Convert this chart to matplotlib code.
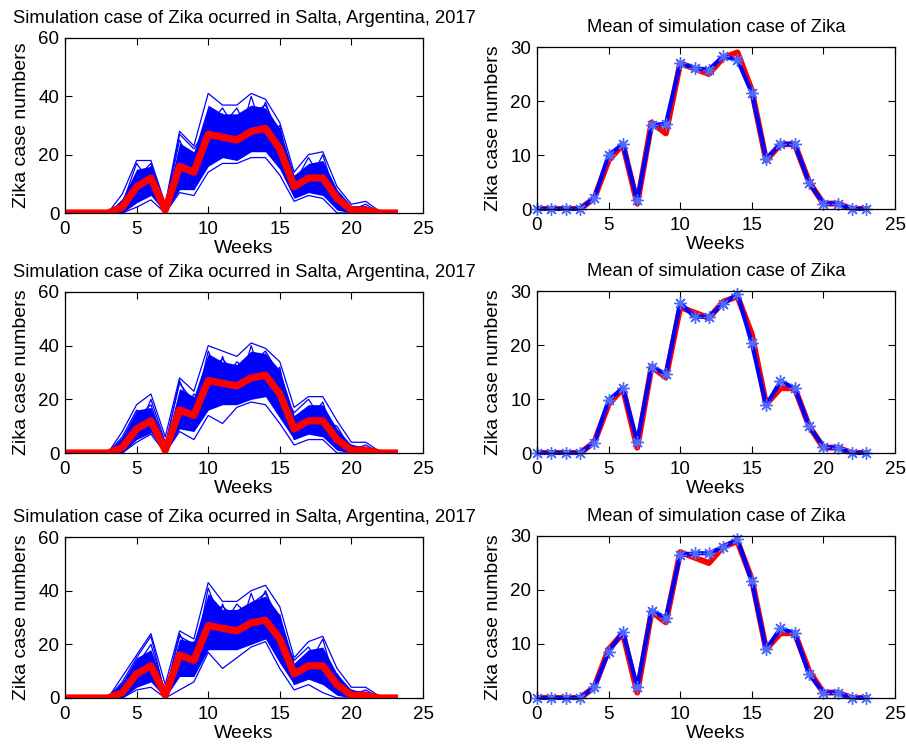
import matplotlib
matplotlib.use("Agg")
import matplotlib.pyplot as plt

plt.rcParams['font.family'] = ['Liberation Sans', 'DejaVu Sans']

weeks = list(range(24))
observed = [0, 0, 0, 0, 2, 9, 12, 1, 16, 14, 27, 26, 25, 28, 29, 22, 9, 12, 12, 5, 1, 1, 0, 0]

# Simulation runs, read as envelopes (outer edges), dense core band and a few visible runs
sim1_hi = [0, 0, 0, 0, 6.5, 18, 18, 3, 28, 23, 41, 37, 37, 41, 39, 31, 14, 20, 21, 9, 3, 4, 0.5, 0]
sim1_lo = [0, 0, 0, 0, 0, 2, 4.5, 0, 7, 6, 14, 17, 17, 19, 19, 13, 4, 6, 5, 0, 0, 0, 0, 0]
band1_hi = [0, 0, 0, 0, 5, 15, 16, 2.5, 24, 21, 37, 34, 34, 37, 36, 29, 13, 17, 18, 8, 2.5, 2.5, 0, 0]
band1_lo = [0, 0, 0, 0, 0, 3.5, 6, 0, 8, 8, 16, 19, 18, 21, 21, 15, 5, 7, 6, 1, 0, 0, 0, 0]
run1_a = [0, 0, 0, 0, 3, 17, 10, 1, 25, 15, 33, 30, 36, 26, 38, 24, 10, 19, 11, 7, 1, 3, 0, 0]
run1_b = [0, 0, 0, 0, 1, 6, 16, 3, 12, 8, 20, 34, 22, 40, 25, 30, 7, 10, 20, 4, 2, 1, 0, 0]
run1_d = [0, 0, 0, 0, 4, 12, 17, 2, 27, 22, 30, 36, 28, 34, 37, 27, 12, 15, 16, 6, 2, 2, 0, 0]
run1_c = [0] * 24

sim2_hi = [0, 0, 0, 0, 8, 18, 22, 6, 28, 23, 40, 38, 36, 41, 39, 34, 17, 21, 21, 12, 4, 4, 0.5, 0]
sim2_lo = [0, 0, 0, 0, 0, 4, 7, 0, 8, 5, 14, 11, 17, 19, 18, 11, 3, 5, 5, 0, 0, 0, 0, 0]
band2_hi = [0, 0, 0, 0, 6, 16, 17, 3, 24, 21, 37, 34, 33, 38, 37, 31, 14, 18, 18, 9, 3, 2.5, 0, 0]
band2_lo = [0, 0, 0, 0, 0, 5, 7.5, 0, 9, 8, 16, 18, 18, 20, 21, 13, 5, 7, 6, 1, 0, 0, 0, 0]
run2_a = [0, 0, 0, 0, 6, 16, 12, 2, 27, 14, 38, 26, 34, 30, 37, 25, 15, 20, 12, 10, 1, 3, 0, 0]
run2_b = [0, 0, 0, 0, 1, 7, 20, 4, 11, 22, 16, 36, 21, 40, 24, 32, 5, 12, 19, 3, 3, 1, 0, 0]
run2_d = [0, 0, 0, 0, 5, 13, 18, 3, 26, 19, 31, 35, 29, 33, 38, 29, 13, 16, 17, 7, 2, 2, 0, 0]

sim3_hi = [0, 0, 0, 0, 8, 16, 24, 5, 25, 22, 43, 36, 36, 40, 42, 34, 15, 21, 23, 11, 4, 4, 0.5, 0]
sim3_lo = [0, 0, 0, 0, 0, 3, 4, 0, 3, 6, 17, 11, 15, 19, 21, 11, 3, 5, 2, 0, 0, 0, 0, 0]
band3_hi = [0, 0, 0, 0, 6, 15, 18, 3, 22, 21, 39, 33, 33, 36, 38, 31, 13, 18, 19, 9, 3, 2.5, 0, 0]
band3_lo = [0, 0, 0, 0, 0, 4, 6, 0, 8, 8, 18, 18, 18, 20, 22, 13, 5, 7, 5, 1, 0, 0, 0, 0]
run3_a = [0, 0, 0, 0, 6, 15, 23, 1, 24, 13, 41, 27, 35, 30, 40, 26, 14, 19, 11, 9, 1, 3, 0, 0]
run3_b = [0, 0, 0, 0, 1, 8, 10, 4, 12, 21, 18, 35, 22, 39, 25, 31, 5, 12, 22, 3, 3, 1, 0, 0]
run3_d = [0, 0, 0, 0, 5, 12, 20, 2, 23, 20, 33, 34, 30, 35, 39, 29, 12, 17, 18, 7, 2, 2, 0, 0]

mean1 = [0, 0, 0, 0, 2, 10, 12, 1.6, 15.5, 15.8, 27, 26.1, 25.8, 28.3, 27.6, 21.5, 9.3, 12, 12, 4.9, 1, 1, 0, 0]
mean2 = [0, 0, 0, 0, 1.9, 9.8, 12, 2.1, 16, 14.6, 27.8, 25.2, 25.2, 27.6, 29.5, 20.3, 8.8, 13.3, 12, 5, 1.1, 0.9, 0, 0]
mean3 = [0, 0, 0, 0, 2, 8.5, 12.3, 2, 16.2, 14.8, 26.5, 26.8, 26.8, 28, 29.4, 21.6, 9, 12.9, 12, 4.4, 1, 1, 0, 0]

left_title = "Simulation case of Zika ocurred in Salta, Argentina, 2017"
right_title = "Mean of simulation case of Zika"
xlabel = "Weeks"
ylabel = "Zika case numbers"
xticks = [0, 5, 10, 15, 20, 25]
left_yticks = [0, 20, 40, 60]
right_yticks = [0, 10, 20, 30]

W, H = 906, 749
fig = plt.figure(figsize=(W / 100, H / 100), dpi=100)

def px_axes(x0, y0, x1, y1):
    return fig.add_axes([x0 / W, 1 - y1 / H, (x1 - x0) / W, (y1 - y0) / H])

left_boxes = [(65, 38, 423, 213), (65, 292, 423, 453), (65, 537, 423, 698)]
right_boxes = [(537, 47, 895, 209), (537, 291, 895, 453), (537, 536, 895, 698)]

sims = [
    (sim1_hi, sim1_lo, band1_hi, band1_lo, [run1_a, run1_b, run1_d, run1_c]),
    (sim2_hi, sim2_lo, band2_hi, band2_lo, [run2_a, run2_b, run2_d]),
    (sim3_hi, sim3_lo, band3_hi, band3_lo, [run3_a, run3_b, run3_d]),
]
means = [mean1, mean2, mean3]

def style(ax, yticks, ylim):
    ax.set_xlim(0, 25)
    ax.set_ylim(*ylim)
    ax.set_xticks(xticks)
    ax.set_yticks(yticks)
    ax.tick_params(axis='both', direction='in', top=True, right=True, labelsize=13.5,
                   length=5, width=0.8)
    ax.tick_params(axis='x', pad=6)
    ax.tick_params(axis='y', pad=4)
    for s in ax.spines.values():
        s.set_linewidth(0.9)
    ax.set_xlabel(xlabel, fontsize=14, labelpad=1)
    ax.set_ylabel(ylabel, fontsize=14, labelpad=6)

for i in range(3):
    hi, lo, bhi, blo, runs = sims[i]
    ax = px_axes(*left_boxes[i])
    ax.fill_between(weeks, blo, bhi, color='#0000ff', lw=0)
    for r in [hi, lo] + runs:
        ax.plot(weeks, r, color='#0000ff', lw=0.9)
    ax.plot(weeks, observed, color='#ff0000', lw=5.2)
    style(ax, left_yticks, (0, 60))
    ax.set_title(left_title, fontsize=13.2, pad=11)

    ax2 = px_axes(*right_boxes[i])
    ax2.plot(weeks, observed, color='#ff0000', lw=4.3)
    ax2.plot(weeks, means[i], color='#0000ff', lw=3, marker=(8, 2, 0), ms=9,
             mec='#4d6bff', mew=1.0, clip_on=False)
    style(ax2, right_yticks, (0, 30))
    ax2.set_title(right_title, fontsize=13.2, pad=11)

fig.savefig("out.png", dpi=100)
